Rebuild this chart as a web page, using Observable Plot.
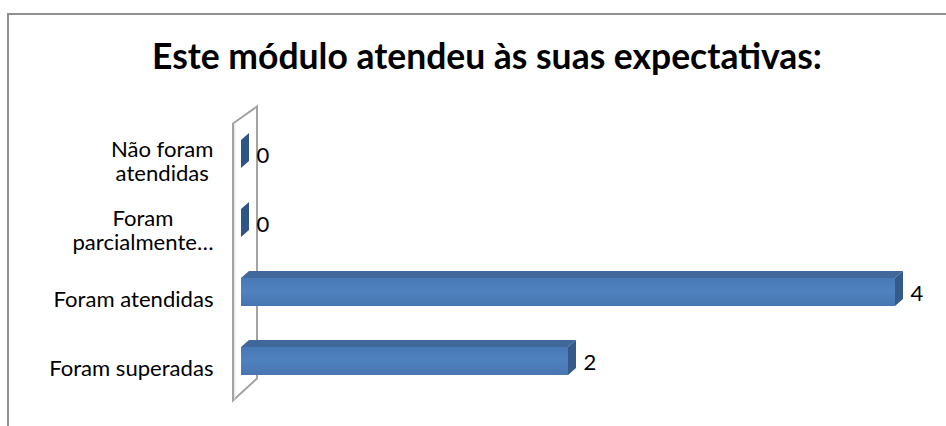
<!DOCTYPE html>
<html><head><meta charset="utf-8">
<script src="https://cdn.jsdelivr.net/npm/d3@7"></script>
<script src="https://cdn.jsdelivr.net/npm/@observablehq/plot@0.6"></script>
<style>
body{margin:0;background:#fff;}
#wrap{position:relative;width:946px;height:426px;overflow:hidden;background:#fff;}
#frame{position:absolute;left:7px;top:13px;width:960px;height:440px;border-left:2px solid #909090;border-top:2px solid #909090;pointer-events:none;}
#title{position:relative;height:90px;box-sizing:border-box;text-align:center;font-family:Lato,'Open Sans',sans-serif;font-weight:700;color:#000;line-height:1.2;white-space:nowrap;padding-left:28px;}
#chart svg{display:block;}
</style>
</head><body>
<svg width="0" height="0" style="position:absolute">
  <defs>
    <linearGradient id="frontGrad" x1="0" y1="0" x2="0" y2="1">
      <stop offset="0" stop-color="#4878b6"/>
      <stop offset="0.45" stop-color="#4f82c0"/>
      <stop offset="1" stop-color="#4875b1"/>
    </linearGradient>
  </defs>
</svg>
<div id="wrap">
  <div id="frame"></div>
  <div id="title"></div>
  <div id="chart"></div>
</div>
<script>
const categories = ["Não foram atendidas", "Foram parcialmente atendidas", "Foram atendidas", "Foram superadas"];
const categoryLabels = ["Não foram\natendidas", "Foram\nparcialmente…", "Foram atendidas", "Foram superadas"];
const values = [0, 0, 4, 2];
const titleText = "Este módulo atendeu às suas expectativas:";

const data = categories.map((c, i) => ({category: c, label: categoryLabels[i], value: values[i]}));

const FAMILY = "Lato, 'Open Sans', sans-serif";
function fit(text, weight, target) {
  const ctx = document.createElement("canvas").getContext("2d");
  ctx.font = `${weight} 100px Lato`;
  return 100 * target / ctx.measureText(text).width;
}
const labelSize = fit("Foram atendidas", 400, 160);
const titleSize = fit(titleText, 700, 670);

const titleEl = document.getElementById("title");
titleEl.textContent = titleText;
titleEl.style.fontSize = titleSize + "px";
titleEl.style.paddingTop = (70 - 0.987 * titleSize) + "px";

const DX = 8, DY = 7;
const TOP = "#40689b", END = "#345a8a";

function bw(y) {
  let b = y.bandwidth;
  if (typeof b === "function") b = b();
  if (!(b > 0)) b = 28.5;
  return b;
}

function wall(index, {x, y}) {
  const b = bw(y);
  const x0 = x(0);
  const lx = x0 - 8, rx = x0 + 16;
  const lt = y(categories[0]) - 16.5;
  const lb = y(categories[categories.length - 1]) + b + 25.5;
  const rt = lt - 17, rb = lb - 22;
  const g = d3.create("svg:g");
  g.append("path")
    .attr("d", `M${lx},${lt}L${rx},${rt}L${rx},${rb}L${lx},${lb}Z`)
    .attr("fill", "none").attr("stroke", "#a3a3a3").attr("stroke-width", 2);
  g.append("path")
    .attr("d", `M${lx + 1.8},${lt}L${lx + 1.8},${lb - 1}`)
    .attr("fill", "none").attr("stroke", "#dcdcdc").attr("stroke-width", 1);
  return g.node();
}

function faces(index, {x, y}) {
  const g = d3.create("svg:g");
  const b = bw(y);
  for (const d of data) {
    const x0 = x(0), x1 = x(d.value), y0 = y(d.category), y1 = y0 + b;
    g.append("path")
      .attr("d", `M${x0},${y0}L${x0 + DX},${y0 - DY}L${x1 + DX},${y0 - DY}L${x1},${y0}Z`)
      .attr("fill", TOP);
    g.append("path")
      .attr("d", `M${x1},${y0}L${x1 + DX},${y0 - DY}L${x1 + DX},${y1 - DY}L${x1},${y1}Z`)
      .attr("fill", d.value === 0 ? "#2f5487" : END);
  }
  return g.node();
}

const plot = Plot.plot({
  width: 946,
  height: 336,
  marginLeft: 241,
  marginRight: 51,
  marginTop: 14.5,
  marginBottom: 14.6,
  style: {fontFamily: FAMILY, background: "transparent", overflow: "visible"},
  x: {domain: [0, 4], axis: null},
  y: {domain: categories, paddingInner: 0.59, paddingOuter: 0.5, align: 0.5, axis: null},
  marks: [
    wall,
    Plot.barX(data, {x: "value", y: "category", fill: "url(#frontGrad)"}),
    faces,
    Plot.text(data, {
      x: () => 0, y: "category", text: "label",
      textAnchor: "end", dx: -28, dy: 7, lineHeight: 1.1,
      fontSize: labelSize, fill: "#000", className: "catlab"
    }),
    Plot.text(data, {
      x: "value", y: "category", text: d => String(d.value),
      textAnchor: "start", dx: DX + 7, dy: 1,
      fontSize: labelSize, fill: "#000"
    })
  ]
});
document.getElementById("chart").appendChild(plot);

// center multi-line category labels within their (right-aligned) block
plot.querySelectorAll(".catlab text").forEach(el => {
  const bb = el.getBBox();
  const cx = bb.x + bb.width / 2;
  el.setAttribute("text-anchor", "middle");
  const tspans = el.querySelectorAll("tspan");
  if (tspans.length) tspans.forEach(t => t.setAttribute("x", cx));
  else el.setAttribute("x", cx);
});
</script>
</body></html>
